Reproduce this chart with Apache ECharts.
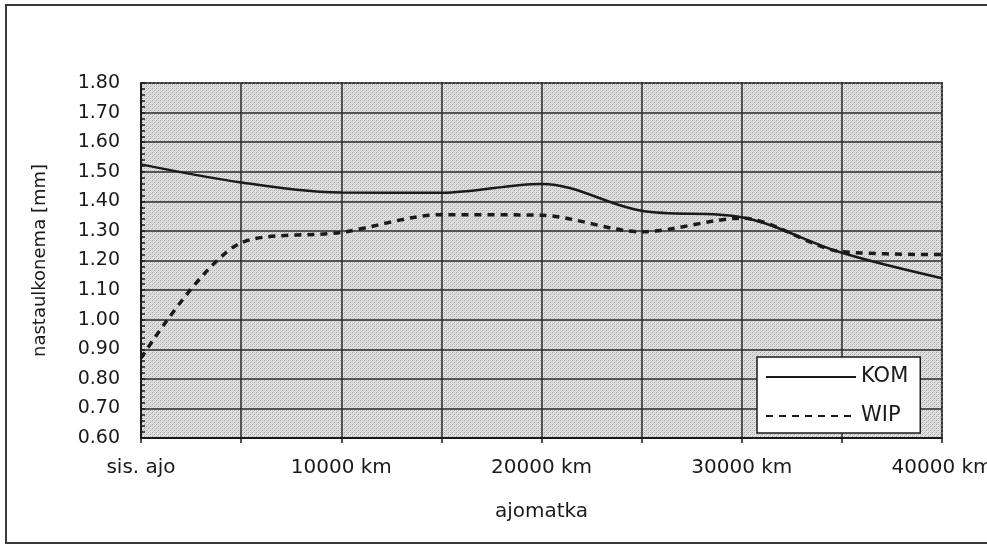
<!DOCTYPE html>
<html>
<head>
<meta charset="utf-8">
<script src="https://cdn.jsdelivr.net/npm/echarts@6/dist/echarts.min.js"></script>
<style>
  html, body { margin: 0; padding: 0; background: #ffffff; }
  #chart { width: 987px; height: 547px; }
</style>
</head>
<body>
<div id="chart"></div>
<script>
// Tread depth over driven distance
const distanceKm = [0, 5000, 10000, 15000, 20000, 25000, 30000, 35000, 40000];
const komValues  = [1.525, 1.464, 1.430, 1.429, 1.459, 1.368, 1.346, 1.226, 1.140];
const wipValues  = [0.870, 1.260, 1.295, 1.355, 1.353, 1.297, 1.343, 1.230, 1.220];
const xTickLabels = ['sis. ajo', '', '10000 km', '', '20000 km', '', '30000 km', '', '40000 km'];
const seriesNames = ['KOM', 'WIP'];
const xAxisTitle = 'ajomatka';
const yAxisTitle = 'nastaulkonema [mm]';

const ink = '#1a1a1a';
const font = 'DejaVu Sans';

// stippled grey fill for the plot area
function stipple() {
  const c = document.createElement('canvas');
  c.width = 4; c.height = 4;
  const g = c.getContext('2d');
  g.fillStyle = '#e3e3e3';
  g.fillRect(0, 0, 4, 4);
  g.fillStyle = '#a2a2a2';
  [[0, 0], [2, 2]].forEach(p => g.fillRect(p[0], p[1], 1, 1));
  g.fillStyle = '#c6c6c6';
  [[2, 0], [0, 2], [1, 3], [3, 1]].forEach(p => g.fillRect(p[0], p[1], 1, 1));
  return c;
}

const pairs = vals => distanceKm.map((d, i) => [d, vals[i]]);

const chart = echarts.init(document.getElementById('chart'), null, { renderer: 'canvas' });
chart.setOption({
  animation: false,
  backgroundColor: '#ffffff',
  textStyle: { fontFamily: font, color: ink },
  graphic: [{
    type: 'rect',
    z: -10,
    silent: true,
    shape: { x: 6, y: 5, width: 1000, height: 538 },
    style: { fill: 'none', stroke: '#3a3a3a', lineWidth: 2 }
  }],
  grid: {
    left: 141, right: 45, top: 83, bottom: 109,
    containLabel: false,
    outerBoundsMode: 'none',
    show: true,
    backgroundColor: { image: stipple(), repeat: 'repeat' },
    borderColor: '#4a4a4a',
    borderWidth: 2,
    borderType: 'dotted'
  },
  legend: {
    orient: 'vertical',
    left: 757, top: 357,
    padding: [9, 12, 6, 8],
    itemWidth: 90, itemHeight: 14, itemGap: 17,
    backgroundColor: '#ffffff',
    borderColor: ink, borderWidth: 1.5, borderRadius: 0,
    itemStyle: { opacity: 0 },
    textStyle: { fontFamily: font, fontSize: 21, color: ink, lineHeight: 22 },
    data: seriesNames
  },
  xAxis: {
    type: 'value',
    min: 0, max: 40000, interval: 5000,
    name: xAxisTitle,
    nameLocation: 'middle',
    nameGap: 64,
    nameTextStyle: { fontFamily: font, fontSize: 20, color: ink },
    axisLine: { show: true, lineStyle: { color: ink, width: 2 } },
    axisTick: { show: true, inside: false, length: 5, lineStyle: { color: ink, width: 1.5 } },
    axisLabel: {
      fontFamily: font, fontSize: 20, color: ink, margin: 20,
      showMinLabel: true, showMaxLabel: true,
      formatter: v => xTickLabels[Math.round(v / 5000)] || ''
    },
    splitLine: { show: true, lineStyle: { color: '#2a2a2a', width: 1.5 } }
  },
  yAxis: {
    type: 'value',
    min: 0.6, max: 1.8, interval: 0.1,
    name: yAxisTitle,
    nameLocation: 'middle',
    nameGap: 92,
    nameTextStyle: { fontFamily: font, fontSize: 18, color: ink },
    axisLine: { show: true, lineStyle: { color: ink, width: 2 } },
    axisTick: { show: true, inside: true, length: 4, lineStyle: { color: ink, width: 1.5 } },
    minorTick: { show: true, splitNumber: 5, length: 4, lineStyle: { color: ink, width: 1.5 } },
    axisLabel: {
      fontFamily: font, fontSize: 19, color: ink, margin: 21,
      formatter: v => v.toFixed(2)
    },
    splitLine: { show: true, lineStyle: { color: '#2a2a2a', width: 1.5 } }
  },
  series: [
    {
      name: seriesNames[0],
      type: 'line',
      data: pairs(komValues),
      smooth: 0.35,
      symbol: 'none',
      lineStyle: { color: ink, width: 2.5 },
      itemStyle: { color: ink },
      z: 3
    },
    {
      name: seriesNames[1],
      type: 'line',
      data: pairs(wipValues),
      smooth: 0.3,
      symbol: 'none',
      lineStyle: { color: ink, width: 3.5, type: [7, 6], cap: 'butt' },
      itemStyle: { color: ink },
      z: 3
    }
  ]
});
</script>
</body>
</html>
